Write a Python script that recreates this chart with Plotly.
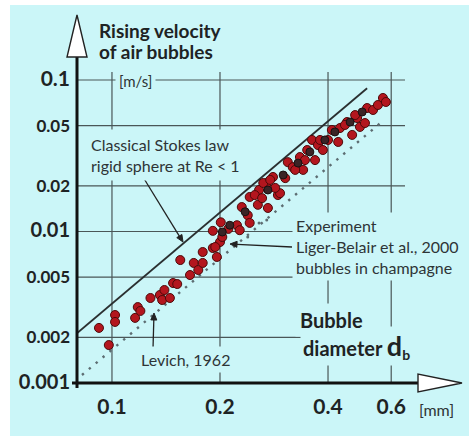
import numpy as np
import plotly.graph_objects as go

# ---------------- data ----------------
# Experiment (Liger-Belair et al., 2000): bubble diameter [mm], rising velocity [m/s]
red_d = [0.092,0.098,0.102,0.102,0.116,0.118,0.120,0.128,0.136,0.138,
         0.140,0.145,0.148,0.152,0.155,0.165,0.169,0.174,0.179,0.179,
         0.191,0.196,0.200,0.191,0.201,0.211,0.223,0.227,0.230,0.239,
         0.242,0.242,0.255,0.257,0.272,0.270,0.281,0.290,0.203,0.194,
         0.264,0.276,0.294,0.304,0.309,0.319,0.334,0.341,0.350,0.361,
         0.368,0.375,0.387,0.410,0.427,0.432,0.452,0.467,0.482,0.491,
         0.507,0.514,0.534,0.551,0.569,0.580,
         0.250,0.262,0.285,0.324,0.345,0.380,0.400,0.446,0.476]
red_v = [0.00231,0.00178,0.00281,0.00253,0.00269,0.00317,0.00299,0.00364,0.00381,0.00353,
         0.00411,0.00364,0.00457,0.00450,0.00648,0.00516,0.00620,0.00557,0.00732,0.00620,
         0.00778,0.00679,0.00852,0.0101,0.0115,0.0104,0.0110,0.0102,0.0145,0.0128,
         0.0114,0.0169,0.0150,0.0188,0.0143,0.0209,0.0229,0.0174,0.00920,0.00790,
         0.0209,0.0219,0.0179,0.0225,0.0287,0.0266,0.0310,0.0255,0.0345,0.0402,
         0.0296,0.0372,0.0345,0.0468,0.0390,0.0482,0.0528,0.0434,0.0561,0.0490,
         0.0520,0.0653,0.0634,0.0684,0.0761,0.0716,
         0.0174,0.0166,0.0194,0.0255,0.0296,0.0402,0.0402,0.0505,0.0587]
dark_d = [0.272,0.300,0.330,0.356,0.392,0.418,0.461,0.213,0.203,0.235,0.498]
dark_v = [0.0188,0.0236,0.0283,0.0335,0.0402,0.0454,0.0528,0.0110,0.00992,0.0135,0.0615]
small_d = [0.257,0.270,0.239]
small_v = [0.0114,0.0119,0.0092]

# Model lines
stokes_d = [0.080, 0.514]
stokes_v = [0.00214, 0.0882]
levich_d = [0.0825, 0.573]
levich_v = [0.00113, 0.0545]

# Ticks
x_ticks = [0.1, 0.2, 0.4, 0.6]
x_ticklabels = ["0.1", "0.2", "0.4", "0.6"]
y_ticks = [0.001, 0.002, 0.005, 0.01, 0.02, 0.05, 0.1]
y_ticklabels = ["0.001", "0.002", "0.005", "0.01", "0.02", "0.05", "0.1"]
y_tick_sizes = [20, 17, 17, 20, 17, 17, 21]

# ---------------- layout helpers ----------------
W, H = 469, 436
L, R, T, B = 77, 7, 15, 53
PW, PH = W - L - R, H - T - B
def px(x):
    return (x - L) / PW
def py(y):
    return (H - B - y) / PH

BG = "#cbf6f8"
GRID = "#4a5657"
TXT = "#2e3436"
FONT = "Lato"

fig = go.Figure()
fig.add_trace(go.Scatter(x=stokes_d, y=stokes_v, mode="lines",
                         line=dict(color="#2a2f30", width=1.8), hoverinfo="skip"))
fig.add_trace(go.Scatter(x=levich_d, y=levich_v, mode="lines",
                         line=dict(color="#5d6d72", width=2.4, dash="2.4px,6.6px"), hoverinfo="skip"))
fig.add_trace(go.Scatter(x=red_d, y=red_v, mode="markers",
                         marker=dict(size=9, color="#b3161e", line=dict(color="#4d0a0a", width=1))))
fig.add_trace(go.Scatter(x=dark_d, y=dark_v, mode="markers",
                         marker=dict(size=8, color="#3a2426", line=dict(color="#1a1010", width=1))))
fig.add_trace(go.Scatter(x=small_d, y=small_v, mode="markers",
                         marker=dict(size=3, color="#5d6d72")))

shapes = []
# white border strips (left and top) of the original picture
shapes.append(dict(type="rect", xref="paper", yref="paper", x0=px(0), x1=px(10), y0=py(436), y1=py(0),
                   fillcolor="white", line=dict(width=0), layer="below"))
shapes.append(dict(type="rect", xref="paper", yref="paper", x0=px(0), x1=px(469), y0=py(5), y1=py(0),
                   fillcolor="white", line=dict(width=0), layer="below"))
# grid lines (shape positions on log axes are given as data values)
for v in y_ticks[1:]:
    shapes.append(dict(type="line", xref="paper", yref="y", x0=px(77), x1=px(405),
                       y0=v, y1=v, line=dict(color=GRID, width=1.2), layer="below"))
for d in x_ticks:
    shapes.append(dict(type="line", xref="x", yref="paper", x0=d, x1=d,
                       y0=py(383), y1=py(72), line=dict(color=GRID, width=1.2), layer="below"))
# axes with arrows
shapes.append(dict(type="line", xref="paper", yref="paper", x0=px(77), x1=px(77), y0=py(388), y1=py(56),
                   line=dict(color="#111", width=3)))
shapes.append(dict(type="line", xref="paper", yref="paper", x0=px(72), x1=px(419), y0=py(383), y1=py(383),
                   line=dict(color="#111", width=3)))
shapes.append(dict(type="path", xref="paper", yref="paper",
                   path=f"M {px(67)},{py(57)} L {px(87)},{py(57)} L {px(77)},{py(15)} Z",
                   fillcolor="white", line=dict(color="#222", width=1.4)))
shapes.append(dict(type="path", xref="paper", yref="paper",
                   path=f"M {px(418)},{py(374)} L {px(418)},{py(392)} L {px(462)},{py(383)} Z",
                   fillcolor="white", line=dict(color="#222", width=1.4)))

# leader lines with small filled arrowheads (pixel positions)
def leader(x, y, tx, ty, size=7, half=3):
    ux, uy = x - tx, y - ty
    n = (ux ** 2 + uy ** 2) ** 0.5
    ux, uy = ux / n, uy / n
    bx, by = x - size * ux, y - size * uy
    p1 = (bx - half * uy, by + half * ux)
    p2 = (bx + half * uy, by - half * ux)
    shapes.append(dict(type="line", xref="paper", yref="paper", x0=px(tx), y0=py(ty), x1=px(bx), y1=py(by),
                       line=dict(color="#222", width=1.3)))
    shapes.append(dict(type="path", xref="paper", yref="paper",
                       path=f"M {px(x)},{py(y)} L {px(p1[0])},{py(p1[1])} L {px(p2[0])},{py(p2[1])} Z",
                       fillcolor="#222", line=dict(color="#222", width=1)))
leader(183, 242, 143, 177)
leader(230, 244, 292, 247)
leader(154, 313, 153, 349)

ann = []
def text(x, y, s, size=16, bold=False, bg=True, pad=3):
    ann.append(dict(x=px(x), y=py(y), xref="paper", yref="paper", text=("<b>%s</b>" % s) if bold else s,
                    showarrow=False, xanchor="left", yanchor="middle", align="left",
                    font=dict(family=FONT, size=size, color=TXT if not bold else "#1e2324"),
                    bgcolor=BG if bg else None, borderpad=pad))

text(95, 31, "Rising velocity", 19, True, False)
text(95, 52, "of air bubbles", 19, True, False)
text(115, 81, "[m/s]", 15)
text(85, 155, "Classical Stokes law<br>rigid sphere at Re &lt; 1", 16, pad=5)
text(292, 246, "Experiment<br>Liger-Belair et al., 2000<br>bubbles in champagne", 16, pad=3)
text(137, 359, "Levich, 1962", 16, pad=3)
text(300, 346, "diameter <span style='font-size:27px'>d</span><sub>b</sub>", 20, True, pad=2)
text(295, 320, "Bubble", 20, True, pad=4)
text(415, 409, "[mm]", 16, bg=False)

y_text = ["<span style='font-size:%dpx'><b>%s</b></span>" % (s, t) for s, t in zip(y_tick_sizes, y_ticklabels)]
x_text = ["<b>%s</b>" % t for t in x_ticklabels]

fig.update_layout(
    width=W, height=H, autosize=False,
    margin=dict(l=L, r=R, t=T, b=B, pad=0),
    paper_bgcolor=BG, plot_bgcolor="rgba(0,0,0,0)",
    showlegend=False,
    shapes=shapes, annotations=ann,
    xaxis=dict(type="log", range=[np.log10(0.0799), np.log10(0.945)], showgrid=False, zeroline=False,
               showline=False, tickvals=x_ticks, ticktext=x_text, ticks="", ticklabelstandoff=9,
               tickfont=dict(family=FONT, size=21, color="#1e2324")),
    yaxis=dict(type="log", range=[-3, np.log10(0.1) + (80 - 15) / 151.5], showgrid=False, zeroline=False,
               showline=False, tickvals=y_ticks, ticktext=y_text, ticks="", ticklabelstandoff=6,
               tickfont=dict(family=FONT, size=17, color="#1e2324")),
)
fig.write_html("out.html")
